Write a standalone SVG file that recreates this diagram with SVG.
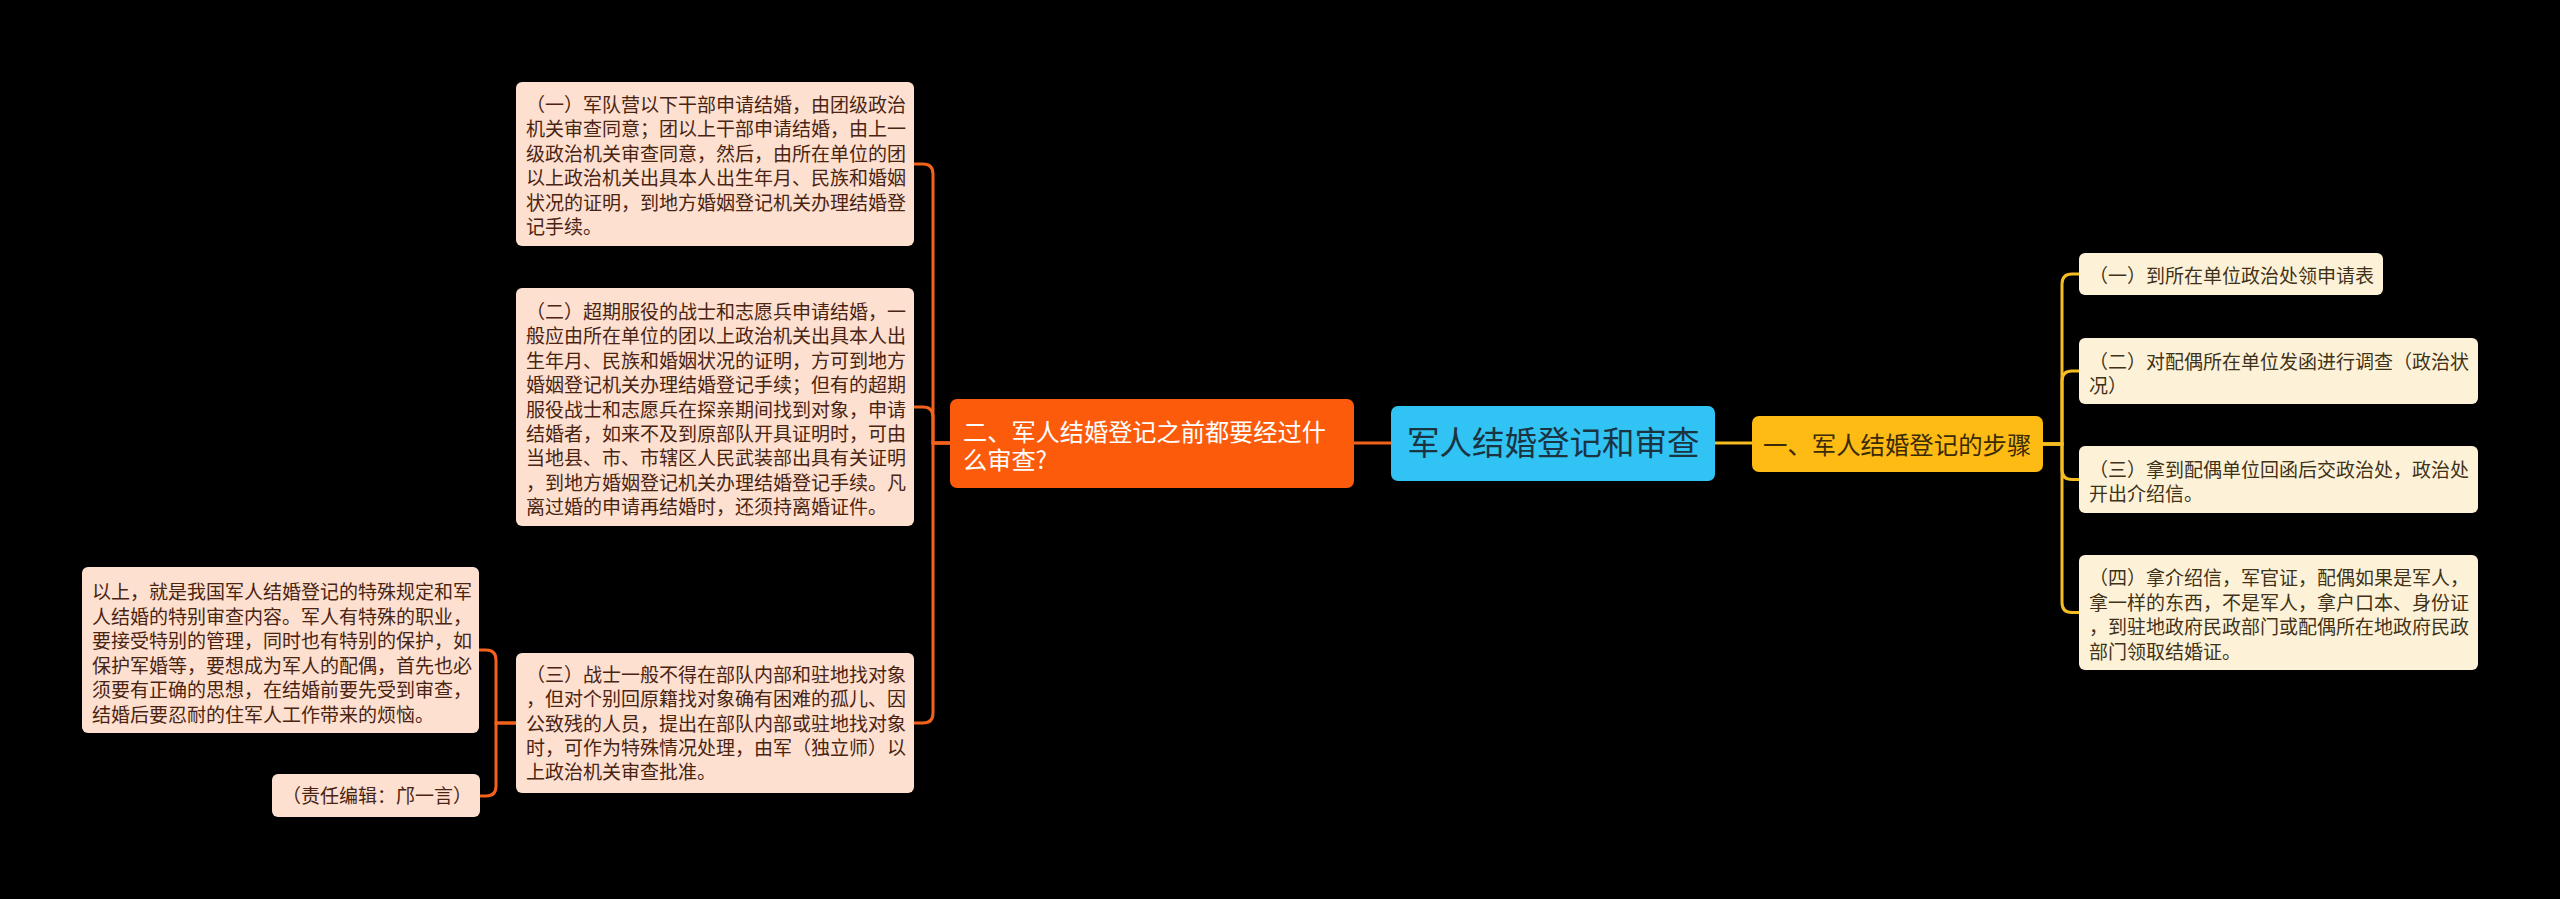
<svg xmlns="http://www.w3.org/2000/svg" width="2560" height="899" viewBox="0 0 2560 899">
<style>
text{font-family:"Noto Sans CJK SC","Noto Sans",sans-serif;}
.lbox{fill:#FDE0D0;}
.rbox{fill:#FDF2D8;}
.lt{font-size:19px;fill:#4A2412;}
.rt{font-size:19px;fill:#3F3218;}
.co{fill:none;stroke:#F2621C;stroke-width:3;}
.cy{fill:none;stroke:#F5BD22;stroke-width:3;}
</style>
<rect width="2560" height="899" fill="#000"/>
<g id="connectors">
<path class="co" d="M1391,443 H1354"/>
<path class="cy" d="M1715,443 H1752"/>
<path class="co" d="M950,443 H933 V174 Q933,164 923,164 H914"/>
<path class="co" d="M950,443 H933 V417 Q933,407 923,407 H914"/>
<path class="co" d="M950,443 H933 V713 Q933,723 923,723 H914"/>
<path class="co" d="M516,723 H496 V660 Q496,650 486,650 H479"/>
<path class="co" d="M516,723 H496 V786 Q496,796 486,796 H480"/>
<path class="cy" d="M2043,444 H2062 V284 Q2062,274 2072,274 H2079"/>
<path class="cy" d="M2043,444 H2062 V381 Q2062,371 2072,371 H2079"/>
<path class="cy" d="M2043,444 H2062 V469.5 Q2062,479.5 2072,479.5 H2079"/>
<path class="cy" d="M2043,444 H2062 V602.5 Q2062,612.5 2072,612.5 H2079"/>
</g>
<g id="root">
<rect x="1391" y="406" width="324" height="75" rx="7" fill="#30C3F3"/>
<text x="1407" y="454.5" font-size="32.5" fill="#1B3442">军人结婚登记和审查</text>
</g>
<g id="branch2">
<rect x="950" y="399" width="404" height="89" rx="7" fill="#FC5B0B"/>
<text x="963" y="440.5" font-size="24.2" fill="#FFFFFF">二、军人结婚登记之前都要经过什</text>
<text x="963" y="468.5" font-size="24.2" fill="#FFFFFF">么审查?</text>
</g>
<g id="branch1">
<rect x="1752" y="416" width="291" height="56" rx="7" fill="#FDBB14"/>
<text x="1763" y="453.5" font-size="24.4" fill="#3A2A06">一、军人结婚登记的步骤</text>
</g>
<g id="l1">
<rect class="lbox" x="516" y="82" width="398" height="164" rx="6"/>
<text class="lt" x="526" y="112">（一）军队营以下干部申请结婚，由团级政治</text>
<text class="lt" x="526" y="136.4">机关审查同意；团以上干部申请结婚，由上一</text>
<text class="lt" x="526" y="160.8">级政治机关审查同意，然后，由所在单位的团</text>
<text class="lt" x="526" y="185.2">以上政治机关出具本人出生年月、民族和婚姻</text>
<text class="lt" x="526" y="209.6">状况的证明，到地方婚姻登记机关办理结婚登</text>
<text class="lt" x="526" y="234">记手续。</text>
</g>
<g id="l2">
<rect class="lbox" x="516" y="288" width="398" height="238" rx="6"/>
<text class="lt" x="526" y="319">（二）超期服役的战士和志愿兵申请结婚，一</text>
<text class="lt" x="526" y="343.4">般应由所在单位的团以上政治机关出具本人出</text>
<text class="lt" x="526" y="367.8">生年月、民族和婚姻状况的证明，方可到地方</text>
<text class="lt" x="526" y="392.2">婚姻登记机关办理结婚登记手续；但有的超期</text>
<text class="lt" x="526" y="416.6">服役战士和志愿兵在探亲期间找到对象，申请</text>
<text class="lt" x="526" y="441">结婚者，如来不及到原部队开具证明时，可由</text>
<text class="lt" x="526" y="465.4">当地县、市、市辖区人民武装部出具有关证明</text>
<text class="lt" x="526" y="489.8">，到地方婚姻登记机关办理结婚登记手续。凡</text>
<text class="lt" x="526" y="514.2">离过婚的申请再结婚时，还须持离婚证件。</text>
</g>
<g id="l3">
<rect class="lbox" x="516" y="653" width="398" height="140" rx="6"/>
<text class="lt" x="526" y="682">（三）战士一般不得在部队内部和驻地找对象</text>
<text class="lt" x="526" y="706.3">，但对个别回原籍找对象确有困难的孤儿、因</text>
<text class="lt" x="526" y="730.6">公致残的人员，提出在部队内部或驻地找对象</text>
<text class="lt" x="526" y="754.9">时，可作为特殊情况处理，由军（独立师）以</text>
<text class="lt" x="526" y="779.2">上政治机关审查批准。</text>
</g>
<g id="ll1">
<rect class="lbox" x="82" y="567" width="397" height="166" rx="6"/>
<text class="lt" x="92" y="599">以上，就是我国军人结婚登记的特殊规定和军</text>
<text class="lt" x="92" y="623.5">人结婚的特别审查内容。军人有特殊的职业，</text>
<text class="lt" x="92" y="648">要接受特别的管理，同时也有特别的保护，如</text>
<text class="lt" x="92" y="672.5">保护军婚等，要想成为军人的配偶，首先也必</text>
<text class="lt" x="92" y="697">须要有正确的思想，在结婚前要先受到审查，</text>
<text class="lt" x="92" y="721.5">结婚后要忍耐的住军人工作带来的烦恼。</text>
</g>
<g id="ll2">
<rect class="lbox" x="272" y="774" width="208" height="43" rx="6"/>
<text class="lt" x="282" y="803">（责任编辑：邝一言）</text>
</g>
<g id="r1">
<rect class="rbox" x="2079" y="253" width="304" height="42" rx="6"/>
<text class="rt" x="2089" y="283">（一）到所在单位政治处领申请表</text>
</g>
<g id="r2">
<rect class="rbox" x="2079" y="338" width="399" height="66" rx="6"/>
<text class="rt" x="2089" y="369">（二）对配偶所在单位发函进行调查（政治状</text>
<text class="rt" x="2089" y="393">况）</text>
</g>
<g id="r3">
<rect class="rbox" x="2079" y="446" width="399" height="67" rx="6"/>
<text class="rt" x="2089" y="477">（三）拿到配偶单位回函后交政治处，政治处</text>
<text class="rt" x="2089" y="501">开出介绍信。</text>
</g>
<g id="r4">
<rect class="rbox" x="2079" y="555" width="399" height="115" rx="6"/>
<text class="rt" x="2089" y="585">（四）拿介绍信，军官证，配偶如果是军人，</text>
<text class="rt" x="2089" y="609.5">拿一样的东西，不是军人，拿户口本、身份证</text>
<text class="rt" x="2089" y="634">，到驻地政府民政部门或配偶所在地政府民政</text>
<text class="rt" x="2089" y="658.5">部门领取结婚证。</text>
</g>
</svg>
